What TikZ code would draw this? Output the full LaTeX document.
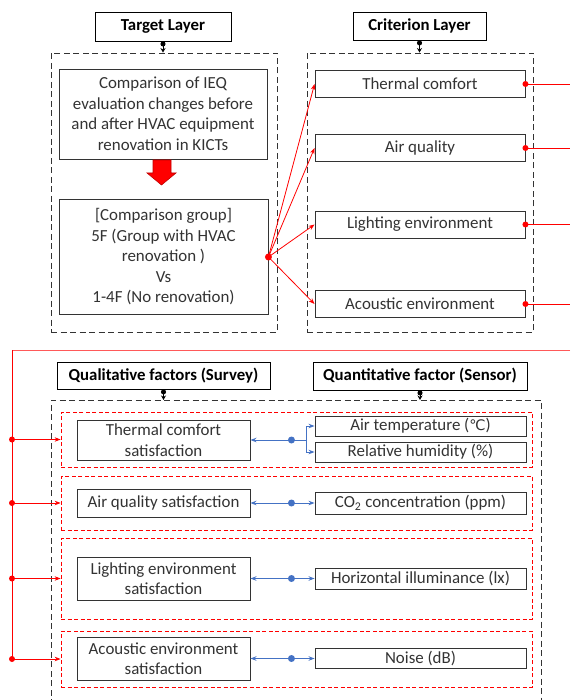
\documentclass[tikz,border=0pt]{standalone}
\usepackage{fontspec}
\setmainfont{Carlito}
\newfontfamily\dejavu{DejaVu Sans}
\usepackage{tikz}
\usetikzlibrary{arrows.meta}
\definecolor{hblue}{HTML}{4472C4}

\begin{document}
\begin{tikzpicture}[x=1pt, y=-1pt,
 every node/.style={draw=black!80, fill=white, line width=0.9pt, inner sep=0pt, align=center, text=black!80, font=\fontsize{16.9}{20.5}\selectfont},
 head/.style={draw=black, text=black, font=\fontsize{16.8}{20}\selectfont\bfseries},
 dframe/.style={draw=black!80, fill=none, line width=0.9pt, dash pattern=on 6pt off 3.5pt},
 rdframe/.style={draw=red, fill=none, line width=0.8pt, dash pattern=on 4pt off 2.5pt},
 cbox/.style={minimum width=210, minimum height=27},
 sbox/.style={minimum width=173},
 qbox/.style={minimum width=211, minimum height=20},
 link/.style={black, line width=0.8pt, {Circle[length=5pt]}-{Stealth[length=4.5pt,width=5pt]}},
 redarr/.style={red, line width=0.8pt, -{Stealth[length=6pt,width=4.5pt]}},
 bluearr/.style={hblue, line width=1pt, -{Stealth[length=6pt,width=4.5pt]}}]
\useasboundingbox (0,0) rectangle (570,700);
\coordinate (redge) at (570,0);
\coordinate (bus) at (12,350);

\node[dframe, minimum width=226, minimum height=279] (lfr) at (164,192.5) {};
\node[dframe, minimum width=226, minimum height=279] (rfr) at (420,192.5) {};
\draw[dframe] (51,705) -- (51,400) coordinate (ftl) -- (541,400) -- (541,705);

\node[rdframe, minimum width=471, minimum height=55] (r1) at (296.5,439.5) {};
\node[rdframe, minimum width=471, minimum height=54] (r2) at (296.5,503) {};
\node[rdframe, minimum width=471, minimum height=81] (r3) at (296.5,578.5) {};
\node[rdframe, minimum width=471, minimum height=56] (r4) at (296.5,659) {};

\node[head, minimum width=136, minimum height=29] (tgt) at (163,26.5) {Target Layer};
\node[head, minimum width=133, minimum height=28] (crit) at (419.5,26) {Criterion Layer};
\node[head, minimum width=213, minimum height=27] (qual) at (163.5,375.5) {Qualitative factors (Survey)};
\node[head, minimum width=214, minimum height=28] (quan) at (420,376) {Quantitative factor (Sensor)};

\node[minimum width=208, minimum height=90] (ieq) at (163,114) {Comparison of IEQ\\evaluation changes before\\and after HVAC equipment\\renovation in KICTs};
\node[minimum width=209, minimum height=115] (grp) at (163.5,257) {[Comparison group]\\5F (Group with HVAC\\renovation )\\Vs\\1-4F (No renovation)};

\node[cbox] (thc) at (420,84) {Thermal comfort};
\node[cbox] (aiq) at (420,148) {Air quality};
\node[cbox] (lig) at (420,224.5) {Lighting environment};
\node[cbox] (aco) at (420,304) {Acoustic environment};

\node[sbox, minimum height=40] (s1) at (163.5,440) {Thermal comfort\\satisfaction};
\node[sbox, minimum height=28] (s2) at (163.5,503) {Air quality satisfaction};
\node[sbox, minimum height=43] (s3) at (163.5,578.5) {Lighting environment\\satisfaction};
\node[sbox, minimum height=43] (s4) at (163.5,658.5) {Acoustic environment\\satisfaction};

\node[qbox] (tmp) at (420.5,426) {Air temperature ({\dejavu\fontsize{14.5}{17}\selectfont ℃})};
\node[qbox] (hum) at (420.5,452) {Relative humidity (\%)};
\node[qbox, minimum height=22] (co2) at (420.5,503) {CO\textsubscript{2} concentration (ppm)};
\node[qbox, minimum height=21] (hor) at (420.5,578.5) {Horizontal illuminance (lx)};
\node[qbox] (noi) at (420.5,658.5) {Noise (dB)};

\filldraw[fill=red, draw=red!75!black, line width=0.6pt] (153,160) -- (171,160) -- (171,173) -- (176,173) -- (161.5,185) -- (147,173) -- (153,173) -- cycle;

\draw[link] (tgt.south) -- (tgt.south |- lfr.north);
\draw[link] (crit.south) -- (crit.south |- rfr.north);
\draw[link] (qual.south) -- (qual.south |- ftl);
\draw[link] (quan.south) -- (quan.south |- ftl);

\foreach \c in {thc,aiq,lig,aco}{
  \draw[redarr] (grp.east) -- (\c.west);
  \draw[red, line width=0.8pt] (\c.east) -- (\c.east -| redge);
  \fill[red] (\c.east) circle (3);
}
\fill[red] (grp.east) circle (3.5);

\draw[red!65, line width=0.8pt] (bus -| redge) -- (bus);
\draw[red, line width=0.8pt] (bus) -- (bus |- r4.west);
\foreach \r in {r1,r2,r3,r4}{
  \draw[redarr] (bus |- \r.west) -- (\r.west);
  \fill[red] (bus |- \r.west) circle (3);
}

\path (s1.east) ++(41,0) coordinate (j1) ++(15,0) coordinate (j1v);
\draw[bluearr] (j1) -- (s1.east);
\draw[hblue, line width=1pt] (j1) -- (j1v);
\draw[bluearr] (j1v) |- (tmp.west);
\draw[bluearr] (j1v) |- (hum.west);
\fill[hblue] (j1) circle (3.5);
\foreach \s/\q in {s2/co2,s3/hor,s4/noi}{
  \path (\s.east) ++(41,0) coordinate (j);
  \draw[bluearr] (j) -- (\s.east);
  \draw[bluearr] (j) -- (\q.west);
  \fill[hblue] (j) circle (3.5);
}
\end{tikzpicture}
\end{document}
